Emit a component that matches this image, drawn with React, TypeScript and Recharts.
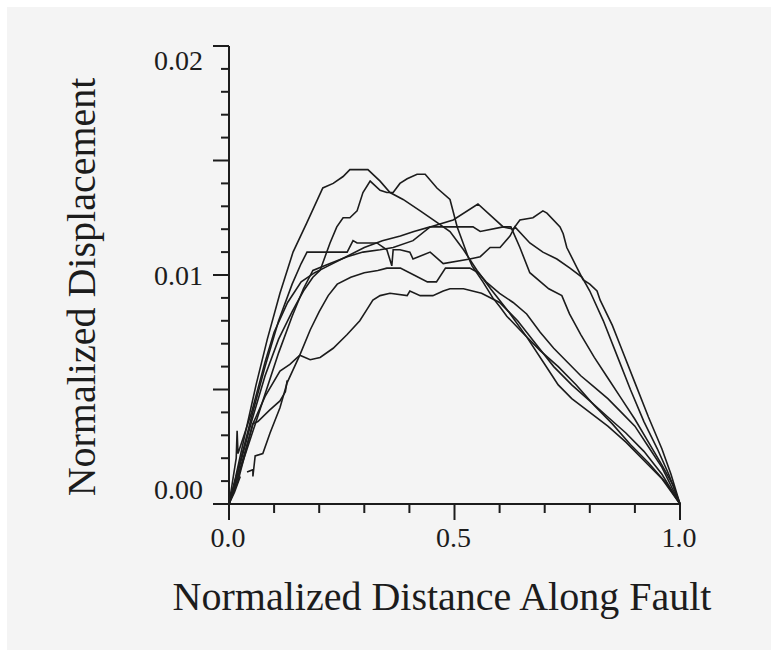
import React from "react";
import { Line, LineChart, XAxis, YAxis } from "recharts";

// tick positions + which ones get a label
const xTicks = [0, 0.1, 0.2, 0.3, 0.4, 0.5, 0.6, 0.7, 0.8, 0.9, 1];
const xLabels = [0, 0.5, 1];
const yTicks = [
  0, 0.001, 0.002, 0.003, 0.004, 0.005, 0.006, 0.007, 0.008, 0.009, 0.01,
  0.011, 0.012, 0.013, 0.014, 0.015, 0.016, 0.017, 0.018, 0.019, 0.02,
];
const yLabels = [0, 0.01, 0.02];

// profiles: [distance, displacement]
const fault1 = [
  [0, 0], [0.015, 0.0012], [0.035, 0.003], [0.06, 0.0052], [0.085, 0.0072],
  [0.113, 0.0092], [0.142, 0.011], [0.173, 0.0123], [0.208, 0.0138],
  [0.231, 0.014], [0.253, 0.0143], [0.268, 0.0146], [0.308, 0.0146],
  [0.335, 0.0141], [0.357, 0.0136], [0.386, 0.0133], [0.424, 0.0128],
  [0.461, 0.0123], [0.49, 0.0119], [0.52, 0.0111], [0.55, 0.0102],
  [0.58, 0.0094], [0.62, 0.0084], [0.66, 0.0073], [0.7, 0.0061],
  [0.73, 0.0052], [0.76, 0.0046], [0.8, 0.004], [0.84, 0.0034],
  [0.88, 0.0027], [0.92, 0.0019], [0.96, 0.0011], [1, 0],
];
const fault2 = [
  [0, 0], [0.02, 0.0014], [0.05, 0.0036], [0.08, 0.0056], [0.11, 0.0072],
  [0.14, 0.0084], [0.165, 0.0093], [0.186, 0.0099], [0.202, 0.0102],
  [0.224, 0.0114], [0.239, 0.0121], [0.253, 0.0125], [0.268, 0.0125],
  [0.284, 0.0128], [0.297, 0.0136], [0.313, 0.0141], [0.335, 0.0137],
  [0.35, 0.0136], [0.364, 0.0136], [0.379, 0.014], [0.395, 0.0142],
  [0.417, 0.0144], [0.435, 0.0144], [0.461, 0.0138], [0.49, 0.0133],
  [0.506, 0.0121], [0.519, 0.0114], [0.53, 0.0108], [0.539, 0.0104],
  [0.563, 0.0097], [0.585, 0.009], [0.601, 0.0086], [0.616, 0.0082],
  [0.65, 0.0075], [0.69, 0.0067], [0.73, 0.006], [0.77, 0.0052],
  [0.81, 0.0043], [0.85, 0.0035], [0.89, 0.0026], [0.93, 0.0018],
  [0.97, 0.0009], [1, 0],
];
const fault3 = [
  [0, 0], [0.02, 0.0012], [0.05, 0.003], [0.08, 0.0048], [0.11, 0.0066],
  [0.14, 0.0082], [0.165, 0.0094], [0.186, 0.0102], [0.224, 0.0105],
  [0.262, 0.0108], [0.297, 0.011], [0.335, 0.0111], [0.364, 0.0112],
  [0.408, 0.0115], [0.446, 0.0121], [0.497, 0.0124], [0.552, 0.0131],
  [0.608, 0.0121], [0.63, 0.012], [0.645, 0.0124], [0.674, 0.0125],
  [0.696, 0.0128], [0.705, 0.0127], [0.734, 0.0121], [0.741, 0.0118],
  [0.749, 0.0112], [0.772, 0.0103], [0.785, 0.0098], [0.8, 0.0096],
  [0.816, 0.0093], [0.823, 0.0089], [0.85, 0.0078], [0.87, 0.0068],
  [0.9, 0.0053], [0.93, 0.0038], [0.96, 0.0024], [0.98, 0.0013], [1, 0],
];
const fault4 = [
  [0, 0], [0.02, 0.0015], [0.05, 0.0038], [0.08, 0.006], [0.11, 0.008],
  [0.14, 0.0096], [0.16, 0.0105], [0.173, 0.011], [0.262, 0.011],
  [0.275, 0.0115], [0.284, 0.0114], [0.328, 0.0114], [0.35, 0.0111],
  [0.361, 0.0104], [0.364, 0.0111], [0.379, 0.0111], [0.401, 0.011],
  [0.408, 0.0107], [0.446, 0.011], [0.475, 0.0105], [0.534, 0.0107],
  [0.557, 0.0108], [0.579, 0.0112], [0.601, 0.0112], [0.623, 0.0117],
  [0.634, 0.0121], [0.667, 0.0114], [0.696, 0.011], [0.727, 0.0107],
  [0.756, 0.0103], [0.783, 0.0099], [0.8, 0.0093], [0.83, 0.008],
  [0.86, 0.0065], [0.89, 0.005], [0.92, 0.0036], [0.95, 0.0024],
  [0.975, 0.0013], [1, 0],
];
const fault5 = [
  [0, 0], [0.016, 0.002], [0.018, 0.0032], [0.02, 0.0022], [0.05, 0.004],
  [0.08, 0.0062], [0.1, 0.0075], [0.13, 0.0088], [0.16, 0.0097],
  [0.19, 0.0101], [0.22, 0.0104], [0.26, 0.0108], [0.3, 0.0112],
  [0.34, 0.0115], [0.38, 0.0117], [0.41, 0.0119], [0.446, 0.0121],
  [0.541, 0.0121], [0.557, 0.0119], [0.608, 0.0121], [0.625, 0.0121],
  [0.645, 0.0112], [0.667, 0.0101], [0.709, 0.0094], [0.738, 0.0091],
  [0.755, 0.0083], [0.78, 0.0074], [0.81, 0.0064], [0.84, 0.0055],
  [0.87, 0.0046], [0.9, 0.0037], [0.93, 0.0027], [0.96, 0.0017],
  [0.985, 0.0008], [1, 0],
];
const fault6 = [
  [0, 0], [0.02, 0.0012], [0.053, 0.0035], [0.08, 0.0047], [0.113, 0.0058],
  [0.135, 0.0061], [0.157, 0.0065], [0.18, 0.0063], [0.202, 0.0064],
  [0.231, 0.0068], [0.262, 0.0074], [0.29, 0.008], [0.306, 0.0085],
  [0.319, 0.0089], [0.335, 0.0091], [0.357, 0.0092], [0.395, 0.0091],
  [0.401, 0.0093], [0.424, 0.0091], [0.452, 0.0091], [0.475, 0.0093],
  [0.49, 0.0094], [0.52, 0.0094], [0.56, 0.0092], [0.6, 0.0088],
  [0.64, 0.008], [0.68, 0.007], [0.72, 0.006], [0.76, 0.0052],
  [0.8, 0.0045], [0.84, 0.0038], [0.88, 0.0031], [0.92, 0.0023],
  [0.96, 0.0013], [1, 0],
];
const fault7 = [
  [0.04, 0.0014], [0.053, 0.0015], [0.053, 0.0012], [0.058, 0.0021],
  [0.075, 0.0022], [0.091, 0.0031], [0.113, 0.0042], [0.129, 0.0053],
  [0.157, 0.0065], [0.18, 0.0076], [0.2, 0.0084], [0.22, 0.0091],
  [0.24, 0.0096], [0.27, 0.0099], [0.3, 0.0101], [0.33, 0.0102],
  [0.35, 0.0103], [0.38, 0.0103], [0.41, 0.01], [0.44, 0.0097],
  [0.46, 0.0097], [0.48, 0.0103], [0.534, 0.0103], [0.553, 0.0101],
  [0.57, 0.0097], [0.6, 0.0092], [0.63, 0.0088], [0.66, 0.0083],
  [0.69, 0.0075], [0.72, 0.0068], [0.75, 0.0062], [0.78, 0.0056],
  [0.81, 0.0051], [0.84, 0.0046], [0.87, 0.004], [0.9, 0.0034],
  [0.93, 0.0025], [0.96, 0.0016], [1, 0],
];
const fault8 = [
  [0, 0], [0.02, 0.001], [0.053, 0.0035], [0.064, 0.0036], [0.09, 0.0041],
  [0.113, 0.0045], [0.125, 0.0049], [0.129, 0.0054],
];
const fault9 = [[0, 0], [0.012, 0.0005], [0.025, 0.0012]];

const profiles = [fault1, fault2, fault3, fault4, fault5, fault6, fault7, fault8, fault9];

const INK = "#1c1c1c";
const SERIF = '"Liberation Serif", "Times New Roman", serif';

function XTick({ x, y, payload }: any) {
  const v = payload.value;
  const major = xLabels.includes(v);
  return (
    <g>
      <line x1={x} x2={x} y1={y} y2={y + (major ? 16 : 9)} stroke={INK} strokeWidth={2} />
      {major && (
        <text x={x - 1} y={y + 43} textAnchor="middle" fontSize={28} fontFamily={SERIF} fill={INK}>
          {v.toFixed(1)}
        </text>
      )}
    </g>
  );
}

// label nudges as printed in the original figure
const yLabelShift: Record<string, number> = { "0": -5, "0.01": 10, "0.02": 24 };

function YTick({ x, y, payload }: any) {
  const v = payload.value;
  const major = Math.abs(v * 200 - Math.round(v * 200)) < 1e-6;
  const labelled = yLabels.includes(v);
  return (
    <g>
      <line x1={x - (major ? 16 : 8)} x2={x} y1={y} y2={y} stroke={INK} strokeWidth={2} />
      {labelled && (
        <text x={x - 26} y={y + yLabelShift[String(v)]} textAnchor="end" fontSize={28} fontFamily={SERIF} fill={INK}>
          {v.toFixed(2)}
        </text>
      )}
    </g>
  );
}

export default function App() {
  return (
    <div style={{ position: "absolute", left: 0, top: 0, width: 771, height: 650, background: "#fff", overflow: "hidden" }}>
      <div style={{ position: "absolute", left: 7, top: 7, right: 0, bottom: 0, background: "#f4f4f4" }} />
      <LineChart
        width={771}
        height={650}
        margin={{ top: 46, right: 91, bottom: 86, left: 149 }}
        style={{ position: "absolute", left: 0, top: 0 }}
      >
        <XAxis
          type="number"
          dataKey="x"
          domain={[0, 1]}
          ticks={xTicks}
          interval={0}
          height={60}
          tickSize={0}
          tickMargin={0}
          tickLine={false}
          axisLine={{ stroke: INK, strokeWidth: 2 }}
          tick={<XTick />}
        />
        <YAxis
          type="number"
          dataKey="y"
          domain={[0, 0.02]}
          ticks={yTicks}
          interval={0}
          width={80}
          tickSize={0}
          tickMargin={0}
          tickLine={false}
          axisLine={{ stroke: INK, strokeWidth: 2 }}
          tick={<YTick />}
        />
        {profiles.map((p, i) => (
          <Line
            key={i}
            data={p.map(([x, y]) => ({ x, y }))}
            dataKey="y"
            type="linear"
            stroke={INK}
            strokeWidth={1.6}
            dot={false}
            activeDot={false}
            isAnimationActive={false}
          />
        ))}
      </LineChart>
      <svg width={771} height={650} style={{ position: "absolute", left: 0, top: 0, pointerEvents: "none" }}>
        <text x={95} y={287} transform="rotate(-90, 95, 287)" textAnchor="middle" fontSize={40} fontFamily={SERIF} fill={INK}>
          Normalized Displacement
        </text>
        <text x={442} y={610} textAnchor="middle" fontSize={40} fontFamily={SERIF} fill={INK}>
          Normalized Distance Along Fault
        </text>
      </svg>
    </div>
  );
}
